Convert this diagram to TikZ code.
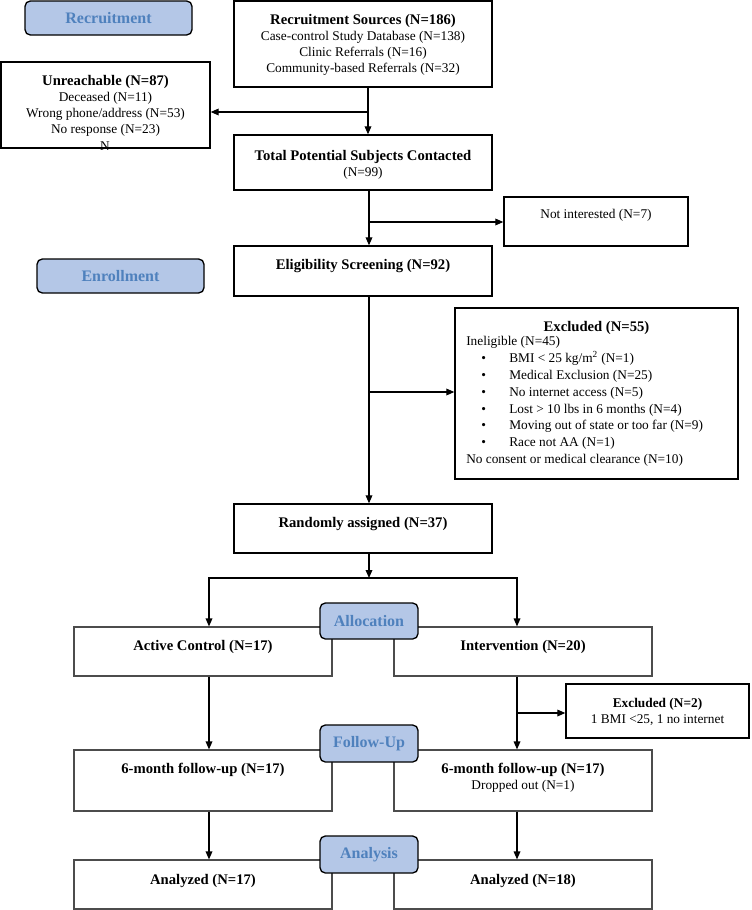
\documentclass[tikz,border=0pt]{standalone}
\usepackage{fontspec}
\setmainfont{Liberation Serif}
\usetikzlibrary{arrows.meta}
\definecolor{lblfill}{HTML}{B4C7E7}
\definecolor{lbltext}{HTML}{4F81BD}
\newcommand{\hd}[1]{{\fontsize{11}{12}\selectfont\bfseries #1}}
\newcommand{\bul}{\makebox[32.25pt][l]{\hspace*{11.25pt}\textbullet}}
\begin{document}
\begin{tikzpicture}[x=0.75pt,y=-0.75pt,
  box/.style={draw=black, line width=1pt, fill=white, inner sep=0pt},
  lbox/.style={draw=black!70, line width=0.9pt, fill=white, inner sep=0pt},
  phase/.style={draw=black, line width=1pt, fill=lblfill, rounded corners=4pt, text=lbltext, font=\fontsize{12}{14}\selectfont\bfseries, inner sep=0pt},
  txt/.style={inner sep=0pt, align=center, font=\fontsize{10}{12}\selectfont},
  arr/.style={line width=0.9pt, -{Triangle[length=6pt,width=5pt]}},
]
\useasboundingbox (0,0) rectangle (751,910);

% ---- boxes (upper part)
\node[box, minimum width=193.5pt, minimum height=64.5pt] (src) at (363,44) {};
\node[box, minimum width=156.75pt, minimum height=64.5pt] (unr) at (105.5,105) {};
\node[box, minimum width=193.5pt, minimum height=41.25pt] (tot) at (363,162.5) {};
\node[box, minimum width=138pt, minimum height=36.75pt] (notint) at (596,221.5) {};
\node[box, minimum width=193.5pt, minimum height=37.5pt] (elig) at (363,271) {};
\node[box, minimum width=212.25pt, minimum height=128.25pt] (exc) at (596.5,393.5) {};
\node[box, minimum width=193.5pt, minimum height=36.75pt] (rand) at (363,528.5) {};

% ---- boxes (lower part)
\node[lbox, minimum width=193.5pt, minimum height=36.75pt] (ac) at (203,651.5) {};
\node[lbox, minimum width=193.5pt, minimum height=36.75pt] (iv) at (523,651.5) {};
\node[box, minimum width=137.25pt, minimum height=40.5pt] (exc2) at (657.5,711) {};
\node[lbox, minimum width=193.5pt, minimum height=45.75pt] (fl) at (203,780.5) {};
\node[lbox, minimum width=193.5pt, minimum height=45.75pt] (fr) at (523,780.5) {};
\node[lbox, minimum width=193.5pt, minimum height=36.75pt] (anl) at (203,884.5) {};
\node[lbox, minimum width=193.5pt, minimum height=36.75pt] (anr) at (523,884.5) {};

% ---- phase labels
\node[phase, minimum width=125.25pt, minimum height=25.5pt] (recl) at (108.5,18) {Recruitment};
\node[phase, minimum width=125.25pt, minimum height=25.5pt] (enrl) at (120.5,276) {Enrollment};
\node[phase, minimum width=73.5pt, minimum height=27pt] (alloc) at (369,621) {Allocation};
\node[phase, minimum width=73.5pt, minimum height=27.75pt] (fup) at (369,743.5) {Follow-Up};
\node[phase, minimum width=73.5pt, minimum height=27.75pt] (ana) at (369,854.5) {Analysis};

% ---- texts
\node[txt] (srct) at (363,44.5) {\hd{Recruitment Sources (N=186)}\\Case-control Study Database (N=138)\\Clinic Referrals (N=16)\\Community-based Referrals (N=32)};
\node[txt] (unrt) at (105.5,106) {\hd{Unreachable (N=87)}\\Deceased (N=11)\\Wrong phone/address (N=53)\\No response (N=23)};
\node[txt] (unrn) at (105,146) {N};
\node[txt] (tott) at (363,164.5) {\hd{Total Potential Subjects Contacted}\\(N=99)};
\node[txt] (notintt) at (596,215.5) {Not interested (N=7)};
\node[txt] (eligt) at (363,266) {\hd{Eligibility Screening (N=92)}};
\node[txt] (exct) at (596.5,328) {\hd{Excluded (N=55)}};
\node[txt, align=left, anchor=west, font=\fontsize{10}{12.6}\selectfont] (excb) at (466,401.5) {Ineligible (N=45)\\
\bul BMI < 25 kg/m\textsuperscript{2} (N=1)\\
\bul Medical Exclusion (N=25)\\
\bul No internet access (N=5)\\
\bul Lost > 10 lbs in 6 months (N=4)\\
\bul Moving out of state or too far (N=9)\\
\bul Race not AA (N=1)\\
No consent or medical clearance (N=10)};
\node[txt] (randt) at (363,524) {\hd{Randomly assigned (N=37)}};
\node[txt] (act) at (203,647) {\hd{Active Control (N=17)}};
\node[txt] (ivt) at (523,647) {\hd{Intervention (N=20)}};
\node[txt] (exc2t) at (657.5,711.5) {{\bfseries Excluded (N=2)}\\1 BMI <25, 1 no internet};
\node[txt] (flt) at (203,770) {\hd{6-month follow-up (N=17)}};
\node[txt] (frt) at (523,778) {\hd{6-month follow-up (N=17)}\\Dropped out (N=1)};
\node[txt] (anlt) at (203,881) {\hd{Analyzed (N=17)}};
\node[txt] (anrt) at (523,880.5) {\hd{Analyzed (N=18)}};

% ---- connectors
\coordinate (xa) at (368,0);
\coordinate (xb) at (369,0);
\coordinate (xl) at (209,0);
\coordinate (xr) at (517,0);
\coordinate (j1) at (368,112);
\coordinate (j2) at (369,222);
\coordinate (j3) at (369,392);
\coordinate (j4) at (369,578);
\coordinate (j5) at (517,713);

\draw[arr] (src.south -| xa) -- (tot.north -| xa);
\draw[arr] (j1) -- (j1 -| unr.east);
\draw[arr] (tot.south -| xb) -- (elig.north -| xb);
\draw[arr] (j2) -- (j2 -| notint.west);
\draw[arr] (elig.south -| xb) -- (rand.north -| xb);
\draw[arr] (j3) -- (j3 -| exc.west);
\draw[arr] (rand.south -| xb) -- (j4);
\draw[arr] (j4) -| (ac.north -| xl);
\draw[arr] (j4) -| (iv.north -| xr);
\draw[arr] (ac.south -| xl) -- (fl.north -| xl);
\draw[arr] (iv.south -| xr) -- (fr.north -| xr);
\draw[arr] (j5) -- (j5 -| exc2.west);
\draw[arr] (fl.south -| xl) -- (anl.north -| xl);
\draw[arr] (fr.south -| xr) -- (anr.north -| xr);
\end{tikzpicture}
\end{document}
